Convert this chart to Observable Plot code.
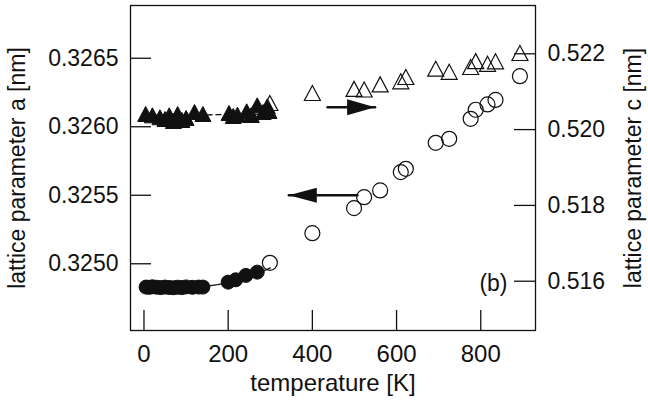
<!DOCTYPE html>
<html><head><meta charset="utf-8">
<script src="https://cdn.jsdelivr.net/npm/d3@7"></script>
<script src="https://cdn.jsdelivr.net/npm/@observablehq/plot@0.6"></script>
<style>
body{margin:0;background:#fff;}
#wrap{position:relative;width:648px;height:403px;}
#wrap svg{position:absolute;left:0;top:0;}
</style></head><body><div id="wrap"></div>
<script>
// ---- data ----
const xTicks = [0, 200, 400, 600, 800];
const aTicks = [0.3250, 0.3255, 0.3260, 0.3265];
const cTicks = [0.516, 0.518, 0.520, 0.522];

// lattice parameter a (circles)
const tempLowA = [5, 12, 20, 30, 40, 50, 60, 70, 80, 90, 100, 115, 130, 140, 200, 218, 242, 269];
const aLow = [0.32483, 0.324828, 0.324832, 0.324829, 0.324826, 0.32483, 0.324827, 0.324825, 0.324829, 0.324826, 0.324831, 0.324828, 0.32483, 0.32483, 0.324866, 0.324883, 0.324915, 0.324939];
const tempHigh = [299, 400, 499, 523, 561, 610, 622, 693, 725, 776, 788, 816, 835, 893];
const aHigh = [0.325007, 0.325223, 0.325406, 0.325486, 0.325535, 0.325669, 0.325693, 0.325883, 0.325912, 0.326058, 0.326124, 0.326163, 0.326196, 0.326369];
const fitTA = [0, 50, 100, 150, 175, 200, 225, 250, 275, 300];
const fitA = [0.324829, 0.324829, 0.324831, 0.324837, 0.324848, 0.324862, 0.32488, 0.324905, 0.324935, 0.32497];

// lattice parameter c (triangles)
const tempLowC = [4, 20, 38, 50, 60, 70, 80, 90, 100, 120, 140, 202, 212, 222, 244, 255, 269, 283, 293, 297];
const cLow = [0.520346, 0.520311, 0.520259, 0.520214, 0.520311, 0.520161, 0.520346, 0.520187, 0.52024, 0.520398, 0.520346, 0.520372, 0.520293, 0.520327, 0.520417, 0.520319, 0.520575, 0.520398, 0.520549, 0.520425];
const cHigh = [0.520636, 0.5209, 0.521008, 0.520992, 0.521127, 0.521208, 0.521322, 0.521541, 0.521459, 0.521586, 0.521741, 0.52167, 0.521736, 0.521955];
const fitTC = [0, 300];
const fitC = [0.52037, 0.52041];

// arrows (temperature from tail to tip, value)
const arrowAT = [507, 344];
const arrowAVal = [0.3255, 0.3255];
const arrowCT = [436, 549];
const arrowCVal = [0.520591, 0.520591];

// ---- layout ----
const W = 648, H = 403;
const mT = 5, mR = 113, mB = 73, mL = 130;
const plotW = W - mL - mR, plotH = H - mT - mB;
const ink = "#111";
const font = "'Liberation Sans', Arial, Helvetica, sans-serif";

const tri = {draw(ctx) { ctx.moveTo(0, -10); ctx.lineTo(8, 5); ctx.lineTo(-8, 5); ctx.closePath(); }};
const headRight = {draw(ctx) { ctx.moveTo(0, 0); ctx.lineTo(-28, -8); ctx.lineTo(-28, 8); ctx.closePath(); }};
const headLeft = {draw(ctx) { ctx.moveTo(0, 0); ctx.lineTo(28, -7.5); ctx.lineTo(28, 7.5); ctx.closePath(); }};

const zip = (xs, ys) => xs.map((x, i) => ({x, y: ys[i]}));

const base = {
  width: W, height: H,
  marginTop: mT, marginRight: mR, marginBottom: mB, marginLeft: mL,
  style: {fontFamily: font, fontSize: "23px", background: "transparent", color: ink}
};

const plotA = Plot.plot({
  ...base,
  x: {domain: [-32, 930]},
  y: {domain: [0.324513, 0.326885]},
  marks: [
    Plot.frame({stroke: ink, strokeWidth: 1.3}),
    Plot.tickX(xTicks, {x: d => d, insetTop: plotH - 20, stroke: ink, strokeWidth: 1.3}),
    Plot.tickY(aTicks, {y: d => d, insetRight: plotW - 21, stroke: ink, strokeWidth: 1.3}),
    Plot.axisX({ticks: xTicks, tickSize: 0, tickPadding: 14, label: null, fontSize: 24}),
    Plot.axisY({ticks: aTicks, tickSize: 0, tickPadding: 12, tickFormat: d3.format(".4f"), label: null, fontSize: 23}),
    Plot.text(["lattice parameter a [nm]"], {text: d => d, frameAnchor: "left", textAnchor: "middle", rotate: -90, dx: -113, fontSize: 23, fill: ink}),
    Plot.text(["temperature [K]"], {text: d => d, frameAnchor: "bottom", textAnchor: "middle", dy: 60, fontSize: 24, fill: ink}),
    Plot.text(["(b)"], {text: d => d, frameAnchor: "bottom-right", textAnchor: "end", dx: -28, dy: -40, fontSize: 23, fill: ink}),
    Plot.line(zip(fitTA, fitA), {x: "x", y: "y", stroke: ink, strokeWidth: 1.3}),
    Plot.dot(zip(tempLowA, aLow), {x: "x", y: "y", r: 7, fill: ink, stroke: ink, strokeWidth: 1}),
    Plot.dot(zip(tempHigh, aHigh), {x: "x", y: "y", r: 7.5, fill: "none", stroke: ink, strokeWidth: 1.2}),
    Plot.line(zip(arrowAT, arrowAVal), {x: "x", y: "y", stroke: ink, strokeWidth: 2.4}),
    Plot.dot(zip(arrowAT, arrowAVal).slice(1), {x: "x", y: "y", symbol: headLeft, fill: ink, stroke: "none"})
  ]
});

const plotC = Plot.plot({
  ...base,
  x: {domain: [-32, 930], axis: null},
  y: {domain: [0.5147, 0.523274]},
  marks: [
    Plot.tickY(cTicks, {y: d => d, insetLeft: plotW - 21, stroke: ink, strokeWidth: 1.3}),
    Plot.axisY({ticks: cTicks, anchor: "right", tickSize: 0, tickPadding: 12, tickFormat: d3.format(".3f"), label: null, fontSize: 23}),
    Plot.text(["lattice parameter c [nm]"], {text: d => d, frameAnchor: "right", textAnchor: "middle", rotate: -90, dx: 98, fontSize: 23, fill: ink}),
    Plot.line(zip(fitTC, fitC), {x: "x", y: "y", stroke: ink, strokeWidth: 1.3, strokeDasharray: "5,4"}),
    Plot.dot(zip(tempHigh, cHigh), {x: "x", y: "y", symbol: tri, fill: "none", stroke: ink, strokeWidth: 1.2}),
    Plot.dot(zip(tempLowC, cLow), {x: "x", y: "y", symbol: tri, fill: ink, stroke: ink, strokeWidth: 1}),
    Plot.line(zip(arrowCT, arrowCVal), {x: "x", y: "y", stroke: ink, strokeWidth: 2.4}),
    Plot.dot(zip(arrowCT, arrowCVal).slice(1), {x: "x", y: "y", symbol: headRight, fill: ink, stroke: "none"})
  ]
});

const wrap = document.getElementById("wrap");
wrap.appendChild(plotA);
wrap.appendChild(plotC);
</script>
</body></html>
